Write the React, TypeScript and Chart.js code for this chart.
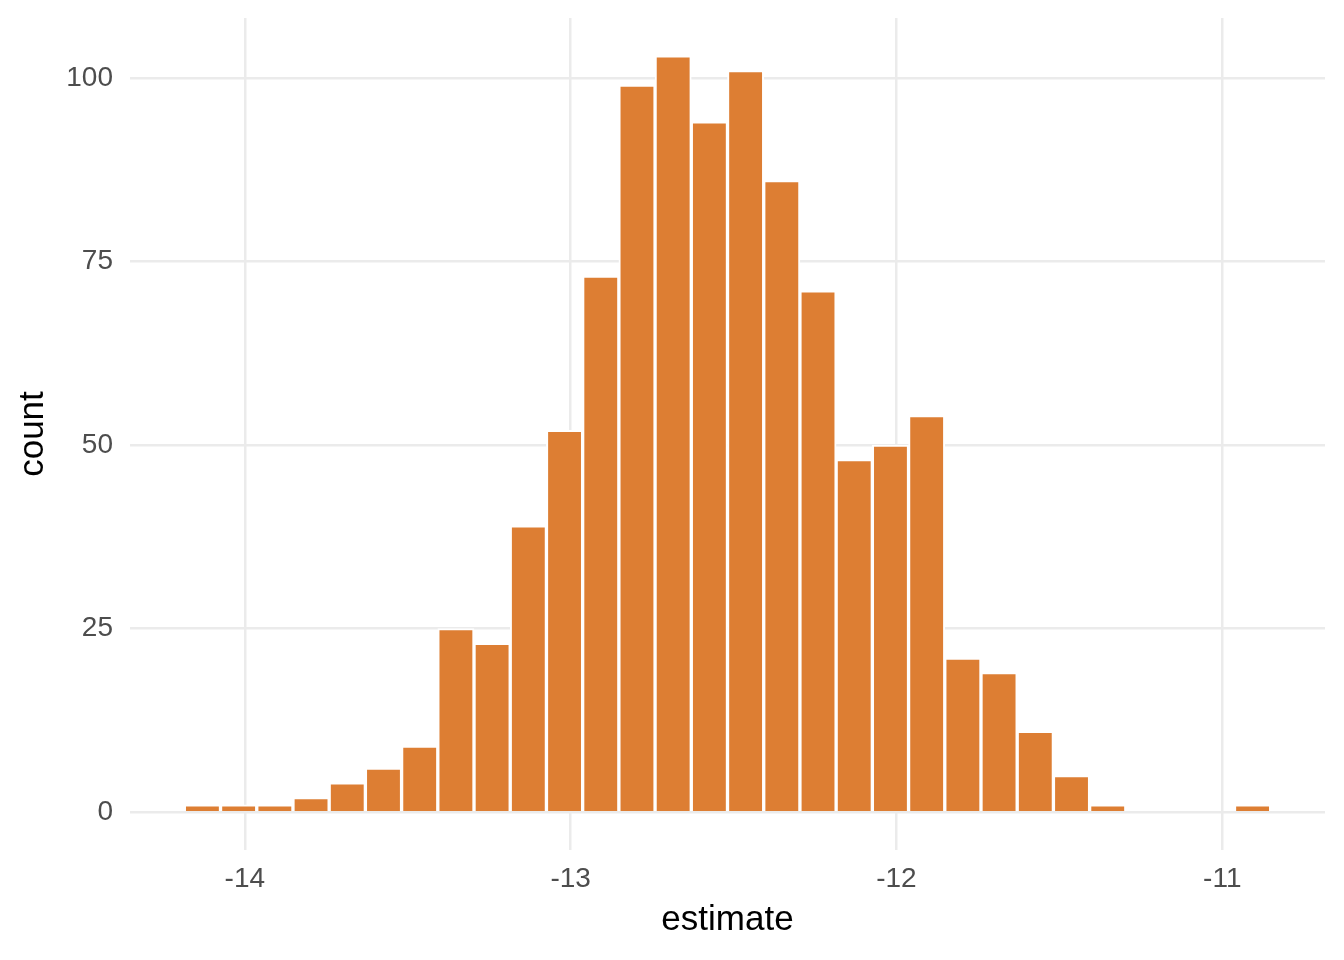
import React, { useEffect, useRef } from "react";
import { Chart, registerables } from "chart.js";

Chart.register(...registerables);

const binStart = -14.1856;
const binWidth = 0.11114;
const counts = [1, 1, 1, 2, 4, 6, 9, 25, 23, 39, 52, 73, 99, 103, 94, 101, 86, 71, 48, 50, 54, 21, 19, 11, 5, 1, 0, 0, 0, 1];
const xTicks = [-14, -13, -12, -11];
const yTicks = [0, 25, 50, 75, 100];
const xTitle = "estimate";
const yTitle = "count";

export default function App() {
  const ref = useRef<HTMLCanvasElement>(null);
  useEffect(() => {
    document.body.style.margin = "0";
    const data = counts.map((c, i) => ({ x: binStart + binWidth * (i + 0.5), y: c }));
    const xMin = binStart;
    const xMax = binStart + binWidth * counts.length;
    const xPad = (xMax - xMin) * 0.05;
    const yMaxData = Math.max(...counts);
    const yPad = yMaxData * 0.05;
    const font = "'Liberation Sans', Arial, Helvetica, sans-serif";
    const chart = new Chart(ref.current!, {
      type: "bar",
      data: {
        datasets: [
          {
            data,
            backgroundColor: "#DD7E33",
            borderColor: "#FFFFFF",
            borderWidth: 2,
            barPercentage: 1,
            categoryPercentage: 1,
          },
        ],
      },
      options: {
        animation: false,
        responsive: false,
        devicePixelRatio: 1,
        layout: { padding: { top: 18, right: 19, left: 0, bottom: 0 } },
        plugins: { legend: { display: false }, tooltip: { enabled: false } },
        scales: {
          x: {
            type: "linear",
            offset: false,
            min: xMin - xPad,
            max: xMax + xPad,
            afterBuildTicks: (s: any) => {
              s.ticks = xTicks.map((v) => ({ value: v }));
            },
            afterFit: (s: any) => {
              s.height = 110;
              s.paddingLeft = 0;
              s.paddingRight = 0;
            },
            grid: { color: "#EBEBEB", lineWidth: 2.5, drawTicks: false, offset: false },
            border: { display: false },
            ticks: {
              color: "#4D4D4D",
              font: { family: font, size: 28 },
              padding: 12,
              maxRotation: 0,
              callback: (v: any) => String(v),
            },
            title: {
              display: true,
              text: xTitle,
              color: "#000000",
              font: { family: font, size: 35 },
              padding: { top: 0, bottom: 19 },
            },
          },
          y: {
            type: "linear",
            min: -yPad,
            max: yMaxData + yPad,
            afterBuildTicks: (s: any) => {
              s.ticks = yTicks.map((v) => ({ value: v }));
            },
            afterFit: (s: any) => {
              s.width = 130;
              s.paddingTop = 0;
              s.paddingBottom = 0;
            },
            grid: { color: "#EBEBEB", lineWidth: 2.5, drawTicks: false },
            border: { display: false },
            ticks: {
              color: "#4D4D4D",
              font: { family: font, size: 28 },
              padding: 17,
              callback: (v: any) => String(v),
            },
            title: {
              display: true,
              text: yTitle,
              color: "#000000",
              font: { family: font, size: 35 },
              padding: { top: 12, bottom: 0 },
            },
          },
        },
      },
    });
    return () => chart.destroy();
  }, []);
  return (
    <div style={{ position: "fixed", left: 0, top: 0, width: 1344, height: 960, background: "#fff" }}>
      <canvas ref={ref} width={1344} height={960} style={{ width: 1344, height: 960 }} />
    </div>
  );
}
